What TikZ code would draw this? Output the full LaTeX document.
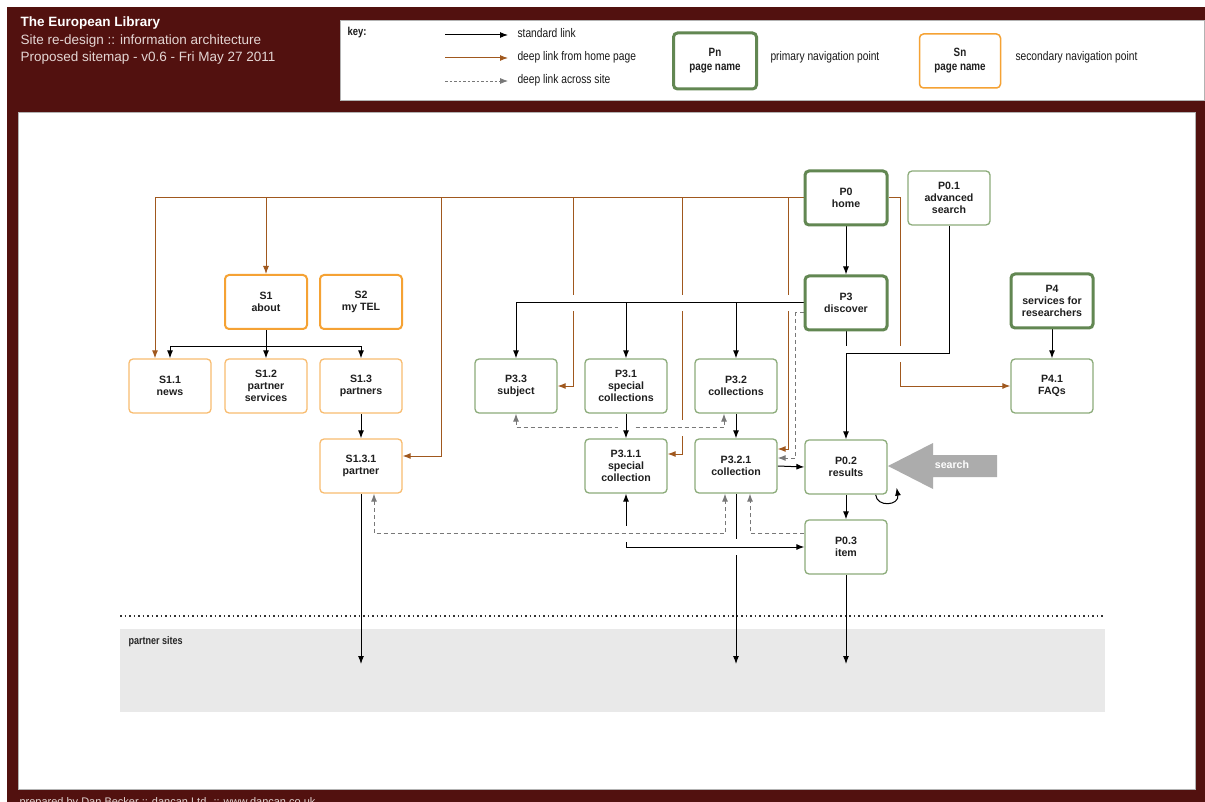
\documentclass[tikz,border=0pt]{standalone}
\usepackage{fontspec}
\setmainfont{Liberation Sans}
\newfontfamily\narrowfont{Liberation Sans}[FakeStretch=0.82]
\usepackage{tikz}
\usetikzlibrary{positioning,arrows.meta,calc}

\definecolor{telred}{RGB}{82,17,15}
\definecolor{headgray}{RGB}{228,214,212}
\definecolor{pgreen}{RGB}{98,135,82}
\definecolor{pgreenlt}{RGB}{140,172,122}
\definecolor{sorange}{RGB}{245,162,52}
\definecolor{sorangelt}{RGB}{248,188,112}
\definecolor{deep}{RGB}{160,88,30}
\definecolor{dashgray}{RGB}{120,120,120}
\definecolor{sitegray}{RGB}{233,233,233}
\definecolor{searchgray}{RGB}{172,172,172}

\pgfdeclarelayer{bg}
\pgfdeclarelayer{links}
\pgfsetlayers{bg,links,main}

\tikzset{
  pmain/.style={draw=pgreen, line width=3pt, rounded corners=4pt, fill=white,
    minimum width=82pt, minimum height=54pt, align=center, text=black!88,
    font=\bfseries\fontsize{10.6}{12}\selectfont},
  pside/.style={pmain, draw=pgreenlt, line width=1.3pt},
  smain/.style={pmain, draw=sorange, line width=2pt},
  sside/.style={pmain, draw=sorangelt, line width=1.3pt},
  link/.style={line width=1pt, -{Latex[length=8pt,width=6pt]}},
  deeplink/.style={link, draw=deep},
  crosslink/.style={link, draw=dashgray, dash pattern=on 4pt off 3pt},
  bridge/.style={preaction={draw=white, line width=16pt, solid, arrows=-}},
  keytext/.style={anchor=west, text=black!90, font=\narrowfont\fontsize{12.5}{14}\selectfont},
}

\begin{document}
\begin{tikzpicture}[x=1pt,y=1pt,yscale=-1]
\useasboundingbox (0,0) rectangle (1205,802);

\begin{pgfonlayer}{bg}
%Shape: Rectangle - frame
\fill[white] (0,0) rectangle (1205,802);
\fill[telred] (7,7) rectangle (1205,802);
%Shape: Rectangle - key box
\draw[gray!60, fill=white, line width=1pt] (340,21) rectangle (1204,101);
%Shape: Rectangle - sitemap panel
\draw[gray!60, fill=white, line width=1pt] (18,113) rectangle (1195,789);
%Shape: Rectangle - partner sites
\fill[sitegray] (120,629) rectangle (1105,712);
%Straight Lines - dotted border
\draw[black!80, line width=1.2pt, dash pattern=on 1.5pt off 3pt] (120,616) -- (1105,616);
\end{pgfonlayer}

% Text Node
\node[anchor=west, text=white, font=\bfseries\fontsize{13.5}{16}\selectfont] (title) at (17,23) {The European Library};
% Text Node
\node[anchor=west, text=headgray, font=\fontsize{13.5}{16}\selectfont] (subtitle) at (17,41) {Site re-design :: information architecture};
% Text Node
\node[anchor=west, text=headgray, font=\fontsize{13.5}{16}\selectfont] (version) at (17,58) {Proposed sitemap - v0.6 - Fri May 27 2011};
% Text Node
\node[anchor=north west, text=headgray, font=\fontsize{11}{13}\selectfont] (footer) at (16,794) {prepared by Dan Becker :: dancan Ltd. :: www.dancan.co.uk};

% key
\node[keytext, font=\narrowfont\bfseries\fontsize{11.5}{14}\selectfont] (keylabel) at (344,33) {key:};
\coordinate (stdA) at (445,35);
\coordinate (stdB) at (508,35);
\coordinate (deepA) at (445,58);
\coordinate (deepB) at (508,58);
\coordinate (crossA) at (445,81);
\coordinate (crossB) at (508,81);
\draw[link] (stdA) -- (stdB);
\draw[deeplink] (deepA) -- (deepB);
\draw[crosslink, line width=0.8pt, dash pattern=on 2.5pt off 2pt] (crossA) -- (crossB);
\node[keytext] (stdtext) at (514,33) {standard link};
\node[keytext] (deeptext) at (514,57) {deep link from home page};
\node[keytext] (crosstext) at (514,80) {deep link across site};
\node[pmain, minimum width=83pt, minimum height=56pt, font=\narrowfont\bfseries\fontsize{12}{14}\selectfont] (keyp) at (715,61) {Pn\\page name};
\node[keytext] (keyptext) at (767,57) {primary navigation point};
\node[smain, minimum width=81pt, minimum height=54pt, line width=1.5pt, font=\narrowfont\bfseries\fontsize{12}{14}\selectfont] (keys) at (960,61) {Sn\\page name};
\node[keytext] (keystext) at (1012,57) {secondary navigation point};

% primary pages
\node[pmain] (home) at (846,198) {P0\\home};
\node[pside] (advsearch) at (949,198) {P0.1\\advanced\\search};
\node[pmain] (discover) at (846,303) {P3\\discover};
\node[pmain] (services) at (1052,301) {P4\\services for\\researchers};
\node[pside] (faqs) at (1052,386) {P4.1\\FAQs};
\node[pside] (subject) at (516,386) {P3.3\\subject};
\node[pside] (spcolls) at (626,386) {P3.1\\special\\collections};
\node[pside] (colls) at (736,386) {P3.2\\collections};
\node[pside] (spcoll) at (626,466) {P3.1.1\\special\\collection};
\node[pside] (coll) at (736,466) {P3.2.1\\collection};
\node[pside] (results) at (846,467) {P0.2\\results};
\node[pside] (item) at (846,547) {P0.3\\item};

% secondary pages
\node[smain] (about) at (266,302) {S1\\about};
\node[smain] (mytel) at (361,302) {S2\\my TEL};
\node[sside] (news) at (170,386) {S1.1\\news};
\node[sside] (partnersvc) at (266,386) {S1.2\\partner\\services};
\node[sside] (partners) at (361,386) {S1.3\\partners};
\node[sside] (partner) at (361,466) {S1.3.1\\partner};

% Text Node
\node[anchor=west, text=black!85, font=\narrowfont\bfseries\fontsize{11}{13}\selectfont] (partnersites) at (125,642) {partner sites};

% search arrow
\fill[searchgray] (888,466) -- (933,443) -- (933,455) -- (997,455) -- (997,477) -- (933,477) -- (933,489) -- cycle;
\node[text=white, font=\bfseries\fontsize{10.6}{12}\selectfont] (search) at (952,465) {search};

\coordinate (stub) at (846,346);
\coordinate (extpartner) at (361,664);
\coordinate (extcoll) at (736,664);
\coordinate (extitem) at (846,664);

\begin{pgfonlayer}{links}
% deep links from home page
\draw[deeplink] (home.west) -| ($(news.north)+(-15,0)$);
\draw[deeplink] (home.west) -| (about.north);
\draw[deeplink] (home.west) -| ($(partner.east)+(39,-10)$) -- ($(partner.east)+(0,-10)$);
\draw[deeplink] (home.west) -| ($(subject.east)+(16,0)$) -- (subject.east);
\draw[deeplink] (home.west) -| ($(spcoll.east)+(15,-12)$) -- ($(spcoll.east)+(0,-12)$);
\draw[deeplink] (home.west) -| ($(coll.east)+(11,-17)$) -- ($(coll.east)+(0,-17)$);
\draw[deeplink] (home.east) -- ++(12,0) |- (faqs.west);

% standard links
\draw[link] (home.south) -- (discover.north);
\draw[link, bridge] (discover.west) -| (subject.north);
\draw[link] (discover.west) -| (spcolls.north);
\draw[link] (discover.west) -| (colls.north);
\draw[line width=1pt] (discover.south) -- (stub);
\draw[link, bridge] (advsearch.south) -- ++(0,128) -| (results.north);
\draw[link] (services.south) -- (faqs.north);
\draw[link] (about.south) -- (partnersvc.north);
\draw[link] (about.south) -- ++(0,17) -| (news.north);
\draw[link] (about.south) -- ++(0,17) -| (partners.north);
\draw[link] (partners.south) -- (partner.north);
\draw[link] (colls.south) -- (coll.north);
\draw[link] (coll.east) -- (results.west);
\draw[link] (results.south) -- (item.north);
\draw[link] ($(results.south east)+(-12,0)$) .. controls +(1,13) and +(3,18) .. ($(results.south east)+(9,-7)$);
\draw[link] (partner.south) -- (extpartner);
\draw[link] (coll.south) -- (extcoll);
\draw[link] (item.south) -- (extitem);
\draw[link, {Latex[length=8pt,width=6pt]}-{Latex[length=8pt,width=6pt]}, bridge] (spcoll.south) |- (item.west);

% deep links across site
\draw[crosslink, {Latex[length=8pt,width=6pt]}-{Latex[length=8pt,width=6pt]}, bridge] ($(partner.south)+(13,0)$) -- ++(0,40) -| ($(coll.south)+(-11,0)$);
\draw[crosslink, bridge] ($(item.west)+(0,-14)$) -| ($(coll.south)+(14,0)$);
\draw[crosslink, {Latex[length=8pt,width=6pt]}-{Latex[length=8pt,width=6pt]}, bridge] (subject.south) -- ++(0,14) -| ($(colls.south)+(-12,0)$);
\draw[crosslink] ($(discover.west)+(0,10)$) -- ++(-8,0) |- ($(coll.east)+(0,-8)$);
\draw[link, bridge] (spcolls.south) -- (spcoll.north);
\end{pgfonlayer}

\end{tikzpicture}
\end{document}
